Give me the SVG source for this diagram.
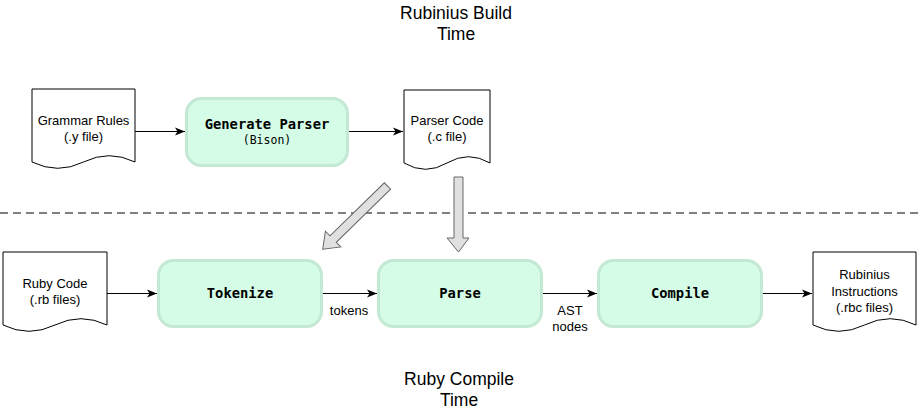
<svg xmlns="http://www.w3.org/2000/svg" width="918" height="410" viewBox="0 0 918 410">
<style>
.doc{fill:#fff;stroke:#000;stroke-width:1}
.proc{fill:#d5fce7;stroke:#c3e8d3;stroke-width:3}
.t{font-family:"Liberation Sans",Arial,sans-serif;font-size:13px;fill:#000;text-anchor:middle}
.title{font-family:"Liberation Sans",Arial,sans-serif;font-size:17.5px;fill:#000;text-anchor:middle}
.m{font-family:"DejaVu Sans Mono",monospace;font-weight:bold;font-size:13.8px;fill:#000;text-anchor:middle}
.ms{font-family:"DejaVu Sans Mono",monospace;font-size:11.5px;fill:#000;text-anchor:middle}
.edge{stroke:#000;stroke-width:1;fill:none;marker-end:url(#ah)}
.big{fill:#e0e0e0;stroke:#666;stroke-width:1}
</style>
<defs>
<marker id="ah" viewBox="0 0 10 10" refX="10" refY="5" markerWidth="10" markerHeight="10" markerUnits="userSpaceOnUse" orient="auto">
<path d="M0,1 L10,5 L0,9 L2.5,5 Z" fill="#000"/>
</marker>
</defs>
<g id="titles">
<text class="title" x="456" y="18.5">Rubinius Build</text>
<text class="title" x="456" y="39.5">Time</text>
<text class="title" x="459" y="385">Ruby Compile</text>
<text class="title" x="459" y="406">Time</text>
</g>
<line x1="0" y1="213" x2="918" y2="213" stroke="#000" stroke-width="1" stroke-dasharray="8,5"/>
<g id="connectors">
<path class="edge" d="M135,131.5 H185"/>
<path class="edge" d="M348,131.5 H403"/>
<path class="edge" d="M107,293.5 H157"/>
<path class="edge" d="M322,293.5 H377"/>
<path class="edge" d="M542,293.5 H597"/>
<path class="edge" d="M762,293.5 H812"/>
<text class="t" x="349" y="315">tokens</text>
<text class="t" x="570" y="315">AST</text>
<text class="t" x="570" y="331">nodes</text>
<path class="big" d="M454,177 H463 V238 H469 L458.5,252 L447,238 H454 Z"/>
<path class="big" transform="translate(387.5,186) rotate(135.7)" d="M0,-4.5 H76 V-11 L90.5,0 L76,11 V4.5 H0 Z"/>
</g>
<g id="grammar">
<path class="doc" d="M32,89 H135 V162 Q109.25,149.4 83.5,162 Q57.75,174.6 32,162 Z"/>
<text class="t" x="83.5" y="125">Grammar Rules</text>
<text class="t" x="83.5" y="141">(.y file)</text>
</g>
<g id="generate">
<rect class="proc" x="186.5" y="98.5" width="161" height="67" rx="15"/>
<text class="m" x="267" y="129">Generate Parser</text>
<text class="ms" x="267" y="144">(Bison)</text>
</g>
<g id="parsercode">
<path class="doc" d="M404,90 H490 V163 Q468.5,150.4 447,163 Q425.5,175.6 404,163 Z"/>
<text class="t" x="447" y="125">Parser Code</text>
<text class="t" x="447" y="141">(.c file)</text>
</g>
<g id="rubycode">
<path class="doc" d="M3,252 H107 V325 Q81,312.4 55,325 Q29,337.6 3,325 Z"/>
<text class="t" x="55" y="288">Ruby Code</text>
<text class="t" x="55" y="304">(.rb files)</text>
</g>
<g id="tokenize">
<rect class="proc" x="158.5" y="260.5" width="163" height="66" rx="15"/>
<text class="m" x="240" y="298">Tokenize</text>
</g>
<g id="parse">
<rect class="proc" x="378.5" y="260.5" width="163" height="66" rx="15"/>
<text class="m" x="460" y="298">Parse</text>
</g>
<g id="compile">
<rect class="proc" x="598.5" y="260.5" width="163" height="66" rx="15"/>
<text class="m" x="680" y="298">Compile</text>
</g>
<g id="rubinius">
<path class="doc" d="M813,252 H916 V325 Q890.25,312.4 864.5,325 Q838.75,337.6 813,325 Z"/>
<text class="t" x="864.5" y="279">Rubinius</text>
<text class="t" x="864.5" y="295.5">Instructions</text>
<text class="t" x="864.5" y="312">(.rbc files)</text>
</g>
</svg>
